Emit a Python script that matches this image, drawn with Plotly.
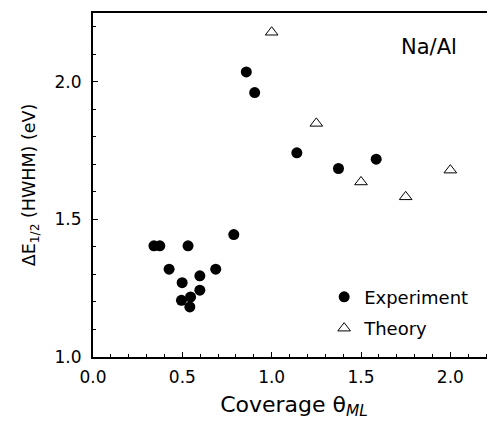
import plotly.graph_objects as go

exp_x = [0.341, 0.374, 0.532, 0.788, 0.426, 0.687, 0.598, 0.499, 0.598, 0.495, 0.546, 0.542,
         0.858, 0.905, 1.141, 1.374, 1.585]
exp_y = [1.404, 1.404, 1.404, 1.445, 1.319, 1.319, 1.295, 1.270, 1.243, 1.206, 1.218, 1.182,
         2.036, 1.961, 1.742, 1.685, 1.719]

th_x = [1.0, 1.25, 1.5, 1.75, 2.0]
th_y = [2.18, 1.849, 1.636, 1.582, 1.679]

x_ticks = [0.0, 0.5, 1.0, 1.5, 2.0]
x_labels = ["0.0", "0.5", "1.0", "1.5", "2.0"]
y_ticks = [1.0, 1.5, 2.0]
y_labels = ["1.0", "1.5", "2.0"]

FONT = "DejaVu Sans"

fig = go.Figure()
fig.add_trace(go.Scatter(
    x=exp_x, y=exp_y, mode="markers", name="Experiment",
    marker=dict(symbol="circle", size=11, color="black"),
    legendgroup="a",
))
fig.add_trace(go.Scatter(
    x=th_x, y=th_y, mode="markers", name="Theory",
    marker=dict(symbol="triangle-up-open", size=11, color="black", line=dict(width=1)),
    legendgroup="b",
))

fig.add_annotation(
    text="Na/Al", x=0.835, y=0.90, xref="paper", yref="paper",
    showarrow=False, font=dict(family=FONT, size=21, color="black"),
    xanchor="center", yanchor="middle",
)

fig.update_layout(
    width=487, height=418,
    margin=dict(l=85, r=0, t=5, b=69),
    paper_bgcolor="white", plot_bgcolor="white",
    font=dict(family=FONT, color="black"),
    showlegend=True,
    legend=dict(
        x=0.575, y=0.228, xanchor="left", yanchor="top",
        font=dict(family=FONT, size=18, color="black"),
        bgcolor="rgba(0,0,0,0)", tracegroupgap=5,
    ),
    xaxis=dict(
        range=[0, 2.25], showgrid=False, zeroline=False, automargin=False,
        showline=True, linecolor="black", linewidth=2, mirror=True,
        tickvals=x_ticks, ticktext=x_labels, ticks="inside", ticklen=5, tickwidth=1,
        tickcolor="black",
        minor=dict(dtick=0.1, ticks="inside", ticklen=3, tickcolor="black", tickwidth=1),
        tickfont=dict(family=FONT, size=17, color="black"),
        ticklabelstandoff=4,
        title=dict(text="Coverage θ<sub><i>ML</i></sub>", font=dict(family=FONT, size=22, color="black"),
                   standoff=10),
    ),
    yaxis=dict(
        range=[1.0, 2.25], showgrid=False, zeroline=False, automargin=False,
        showline=True, linecolor="black", linewidth=2, mirror=False,
        tickvals=y_ticks, ticktext=y_labels, ticks="inside", ticklen=5, tickwidth=1,
        tickcolor="black",
        minor=dict(dtick=0.1, ticks="inside", ticklen=3, tickcolor="black", tickwidth=1),
        tickfont=dict(family=FONT, size=17, color="black"),
        ticklabelstandoff=6,
        title=dict(text="ΔE<sub>1/2</sub> (HWHM) (eV)", font=dict(family=FONT, size=17.5, color="black"),
                   standoff=14),
    ),
)

fig.write_html("out.html")
